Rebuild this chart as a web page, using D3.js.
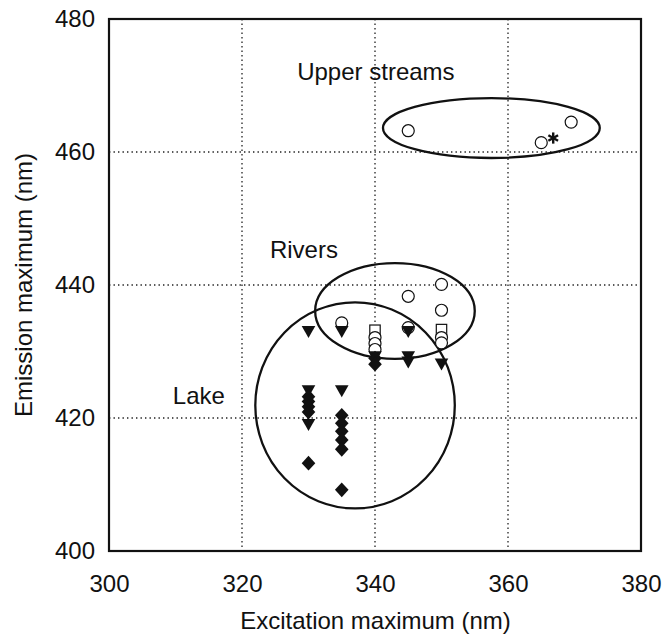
<!DOCTYPE html>
<html>
<head>
<meta charset="utf-8">
<script src="https://cdn.jsdelivr.net/npm/d3@7"></script>
<style>
  html, body { margin: 0; padding: 0; background: #fff; }
  svg { display: block; }
  text { font-family: "Liberation Sans", Arial, Helvetica, sans-serif; fill: #111; }
</style>
</head>
<body>
<svg id="chart" width="663" height="637"></svg>
<script>
// Excitation / emission maxima (nm) of the sampled waters
const xTicks = [300, 320, 340, 360, 380];
const yTicks = [400, 420, 440, 460, 480];

// open circles
const circlesX = [345, 365, 369.5, 350, 345, 350, 335, 340, 340, 340, 350, 350, 345];
const circlesY = [463.2, 461.4, 464.5, 440.1, 438.3, 436.2, 434.3, 432.1, 431.2, 430.3, 432.1, 431.3, 433.6];
// open squares
const squaresX = [340, 350];
const squaresY = [433.2, 433.3];
// filled down-triangles
const trianglesX = [330, 335, 345, 340, 345, 345, 350, 330, 330, 335];
const trianglesY = [433, 433, 433, 429.2, 429.2, 428.4, 428.1, 424.1, 419, 424.1];
// filled diamonds
const diamondsX = [340, 340, 330, 330, 330, 330, 330, 335, 335, 335, 335, 335, 335];
const diamondsY = [429, 428.1, 423.2, 422.5, 421.7, 420.9, 413.2, 420.4, 419.2, 418, 416.7, 415.3, 409.2];
// asterisk
const starsX = [366.8];
const starsY = [462.1];

// grouping envelopes (centre, radii in nm) and their names
const groupNames = ["Upper streams", "Rivers", "Lake"];
const groupCX = [357.5, 343, 337];
const groupCY = [463.6, 436.1, 421.9];
const groupRX = [16.3, 12, 15];
const groupRY = [4.5, 7.2, 15.5];
const labelX = [328.3, 324.2, 309.6];
const labelY = [470.8, 444.1, 422.1];

const svg = d3.select("#chart");
const plotL = 109, plotR = 641, plotT = 19, plotB = 551;

const x = d3.scaleLinear().domain([300, 380]).range([plotL, plotR]);
const y = d3.scaleLinear().domain([400, 480]).range([plotB, plotT]);

// dotted grid
const grid = svg.append("g").attr("stroke", "#222").attr("stroke-width", 1.3)
  .attr("stroke-dasharray", "1.4,3.1");
grid.selectAll("line.v").data(xTicks.slice(1, -1)).join("line")
  .attr("x1", d => x(d)).attr("x2", d => x(d)).attr("y1", plotT).attr("y2", plotB);
grid.selectAll("line.h").data(yTicks.slice(1, -1)).join("line")
  .attr("y1", d => y(d)).attr("y2", d => y(d)).attr("x1", plotL).attr("x2", plotR);

// axes (labels only, frame drawn separately)
const xAxis = svg.append("g").attr("transform", `translate(0,${plotB})`)
  .call(d3.axisBottom(x).tickValues(xTicks).tickSize(0).tickPadding(24));
const yAxis = svg.append("g").attr("transform", `translate(${plotL},0)`)
  .call(d3.axisLeft(y).tickValues(yTicks).tickSize(0).tickPadding(14));
[xAxis, yAxis].forEach(a => {
  a.select(".domain").remove();
  a.selectAll("text").attr("font-size", 24).attr("font-family", "Liberation Sans, Arial, sans-serif").attr("fill", "#111");
});

// frame
svg.append("rect").attr("x", plotL).attr("y", plotT)
  .attr("width", plotR - plotL).attr("height", plotB - plotT)
  .attr("fill", "none").attr("stroke", "#111").attr("stroke-width", 2.2);

// group envelopes
const kx = x(1) - x(0), ky = y(0) - y(1);
svg.append("g").selectAll("ellipse").data(groupNames).join("ellipse")
  .attr("cx", (d, i) => x(groupCX[i])).attr("cy", (d, i) => y(groupCY[i]))
  .attr("rx", (d, i) => groupRX[i] * kx).attr("ry", (d, i) => groupRY[i] * ky)
  .attr("fill", "none").attr("stroke", "#111").attr("stroke-width", 2.3);

svg.append("g").selectAll("text").data(groupNames).join("text")
  .attr("x", (d, i) => x(labelX[i])).attr("y", (d, i) => y(labelY[i]))
  .attr("font-size", 24).text(d => d);

// markers: open symbols first, filled symbols on top
const pts = (xs, ys) => xs.map((v, i) => [v, ys[i]]);
const marks = svg.append("g");

marks.selectAll("rect.sq").data(pts(squaresX, squaresY)).join("rect")
  .attr("x", d => x(d[0]) - 5.2).attr("y", d => y(d[1]) - 5.2)
  .attr("width", 10.4).attr("height", 10.4)
  .attr("fill", "#fff").attr("stroke", "#111").attr("stroke-width", 1.2);

marks.selectAll("circle.c").data(pts(circlesX, circlesY)).join("circle")
  .attr("cx", d => x(d[0])).attr("cy", d => y(d[1])).attr("r", 6)
  .attr("fill", "#fff").attr("stroke", "#111").attr("stroke-width", 1.2);

marks.selectAll("path.tri").data(pts(trianglesX, trianglesY)).join("path")
  .attr("transform", d => `translate(${x(d[0])},${y(d[1])})`)
  .attr("d", "M-6.8,-5.6L6.8,-5.6L0,6.4Z").attr("fill", "#111");

marks.selectAll("path.dia").data(pts(diamondsX, diamondsY)).join("path")
  .attr("transform", d => `translate(${x(d[0])},${y(d[1])})`)
  .attr("d", "M0,-7.4L6.8,0L0,7.4L-6.8,0Z").attr("fill", "#111");

const star = marks.selectAll("g.star").data(pts(starsX, starsY)).join("g")
  .attr("transform", d => `translate(${x(d[0])},${y(d[1])})`)
  .attr("stroke", "#111").attr("stroke-width", 2.4).attr("stroke-linecap", "butt");
[90, 30, -30].forEach(a => {
  const r = a * Math.PI / 180, L = 5.6;
  star.append("line")
    .attr("x1", -L * Math.cos(r)).attr("y1", -L * Math.sin(r))
    .attr("x2", L * Math.cos(r)).attr("y2", L * Math.sin(r));
});

// axis titles
svg.append("text").attr("x", (plotL + plotR) / 2 + 0.5).attr("y", 629)
  .attr("text-anchor", "middle").attr("font-size", 24).text("Excitation maximum (nm)");
svg.append("text").attr("transform", `translate(32,${(plotT + plotB) / 2}) rotate(-90)`)
  .attr("text-anchor", "middle").attr("font-size", 24).text("Emission maximum (nm)");
</script>
</body>
</html>
